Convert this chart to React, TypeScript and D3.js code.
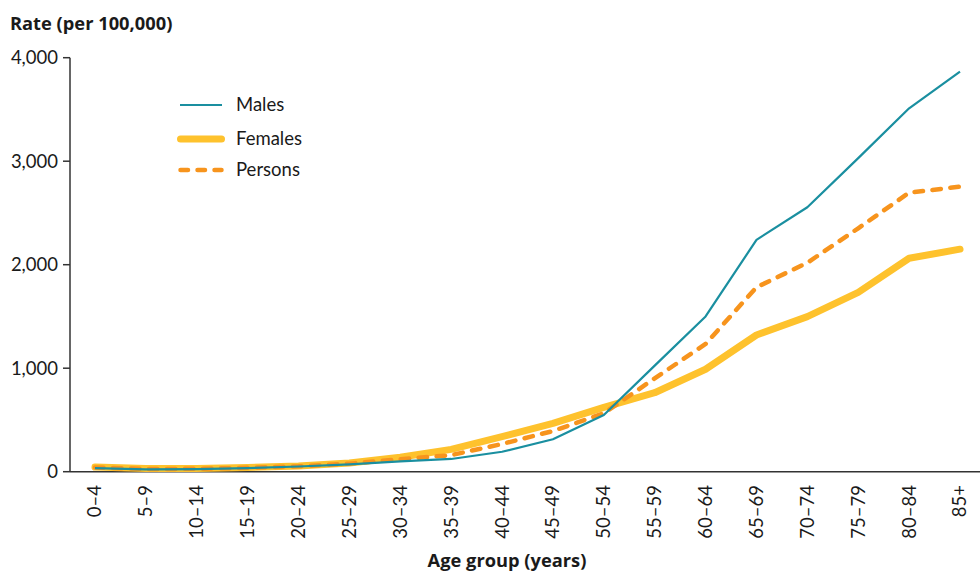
import React from "react";
import * as d3 from "d3";

const categories = ["0–4","5–9","10–14","15–19","20–24","25–29","30–34","35–39","40–44","45–49","50–54","55–59","60–64","65–69","70–74","75–79","80–84","85+"];
const males = [35, 22, 25, 35, 50, 70, 100, 123, 193, 313, 548, 1025, 1500, 2240, 2555, 3030, 3511, 3865];
const females = [45, 30, 32, 40, 55, 85, 140, 216, 338, 467, 622, 763, 990, 1321, 1498, 1733, 2062, 2150];
const persons = [40, 26, 28, 38, 52, 78, 120, 160, 268, 393, 564, 902, 1234, 1782, 2019, 2352, 2696, 2754];
const yTicks = [0, 1000, 2000, 3000, 4000];
const series = [
  { name: "Females", values: females, color: "#fec22d", width: 7, dash: "", cap: "round" },
  { name: "Persons", values: persons, color: "#f7941d", width: 4.5, dash: "8.5 9.5", cap: "round" },
  { name: "Males", values: males, color: "#1a8fa0", width: 2.2, dash: "", cap: "butt" },
];
const legendOrder = ["Males", "Females", "Persons"];

const W = 980, H = 576;
const FONT = "Lato, 'Open Sans', sans-serif";
const BOLD = "'Open Sans', Lato, sans-serif";

export default function App() {
  const x = d3.scalePoint<string>().domain(categories).range([95, 960]);
  const y = d3.scaleLinear().domain([0, 4000]).range([471.7, 57.7]);
  const fmt = d3.format(",");
  const line = (vals: number[]) =>
    d3.line<number>().x((_, i) => x(categories[i]) as number).y((d) => y(d))(vals) as string;

  return (
    <div style={{ position: "absolute", left: 0, top: 0 }}>
      <svg width={W} height={H} style={{ display: "block", fontFamily: FONT }}>
        <rect width={W} height={H} fill="#fff" />
        <text x={10} y={30} fontSize={18.3} fontWeight={700} fontFamily={BOLD} fill="#1a1a1a">Rate (per 100,000)</text>
        {/* y axis */}
        <line x1={70} x2={70} y1={y(4000)} y2={y(0)} stroke="#333" strokeWidth={1.5} />
        {yTicks.map((t) => (
          <g key={t}>
            <line x1={63} x2={70} y1={y(t)} y2={y(t)} stroke="#333" strokeWidth={1.5} />
            <text x={58} y={y(t)} dy="0.35em" textAnchor="end" fontSize={18.5} fill="#1a1a1a">{fmt(t)}</text>
          </g>
        ))}
        {/* x axis */}
        <line x1={70} x2={980} y1={y(0)} y2={y(0)} stroke="#333" strokeWidth={1.5} />
        {categories.map((c) => (
          <text key={c} transform={`translate(${x(c)},${485}) rotate(-90)`} textAnchor="end" dy="0.35em" fontSize={18.5} fill="#1a1a1a">{c}</text>
        ))}
        <text x={507} y={567} textAnchor="middle" fontSize={18.3} fontWeight={700} fontFamily={BOLD} fill="#1a1a1a">Age group (years)</text>
        {/* lines */}
        {series.map((s) => (
          <path key={s.name} d={line(s.values)} fill="none" stroke={s.color} strokeWidth={s.width}
            strokeDasharray={s.dash || undefined} strokeLinecap={s.cap as any} strokeLinejoin="round" />
        ))}
        {/* legend */}
        {legendOrder.map((n, i) => {
          const s = series.find((d) => d.name === n)!;
          const ly = [105, 139, 170][i];
          return (
            <g key={n}>
              <line x1={s.cap === "round" ? 180.5 : 180} x2={s.cap === "round" ? 221.5 : 222} y1={ly} y2={ly} stroke={s.color} strokeWidth={s.width}
                strokeDasharray={s.name === "Persons" ? "7.5 9.5" : undefined} strokeLinecap={s.cap as any} />
              <text x={236} y={ly} dy="0.35em" fontSize={18.5} fill="#1a1a1a">{n}</text>
            </g>
          );
        })}
      </svg>
    </div>
  );
}
